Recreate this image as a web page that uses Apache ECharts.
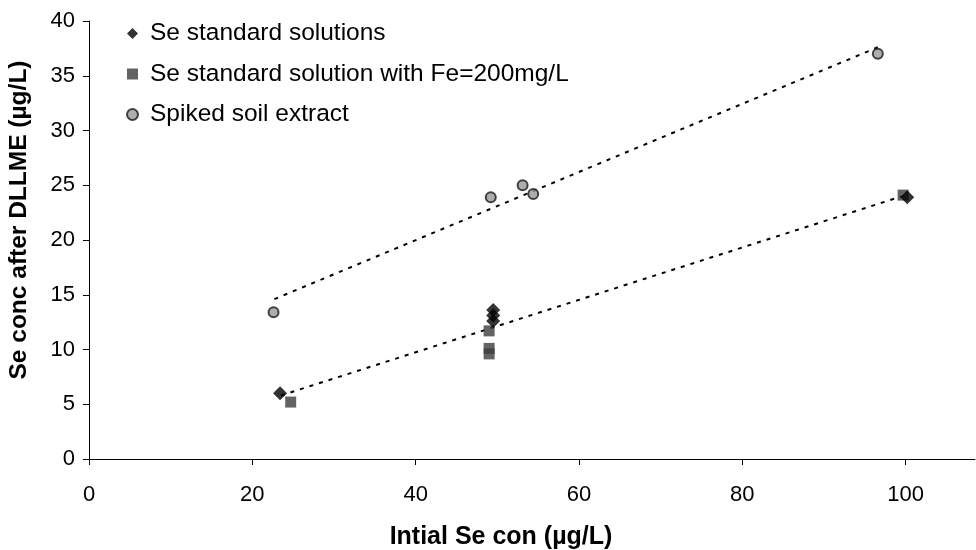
<!DOCTYPE html>
<html>
<head>
<meta charset="utf-8">
<script src="https://cdn.jsdelivr.net/npm/echarts@6/dist/echarts.min.js"></script>
<style>
  html, body { margin: 0; padding: 0; background: #fff; }
  #chart { width: 976px; height: 550px; }
</style>
</head>
<body>
<div id="chart"></div>
<script>
// Initial Se concentration (µg/L) vs. concentration found after DLLME (µg/L)
const standardX = [23.4, 49.5, 49.5, 49.5, 100.2];
const standardY = [6.0, 13.6, 13.1, 12.6, 23.9];

const withFeX = [24.7, 49.0, 49.0, 49.0, 99.7];
const withFeY = [5.2, 11.7, 10.1, 9.6, 24.1];

const soilX = [22.6, 49.2, 53.1, 54.4, 96.6];
const soilY = [13.4, 23.9, 25.0, 24.2, 37.0];

// Trendline end points
const trendStdX = [23.5, 100];
const trendStdY = [5.8, 24.1];
const trendSoilX = [22.7, 96.6];
const trendSoilY = [14.6, 37.6];

const xTicks = [0, 20, 40, 60, 80, 100];
const yTicks = [0, 5, 10, 15, 20, 25, 30, 35, 40];

const seriesNames = [
  'Se standard solutions',
  'Se standard solution with Fe=200mg/L',
  'Spiked soil extract'
];

const pairs = (xs, ys) => xs.map((x, i) => [x, ys[i]]);

const font = 'Liberation Sans, Arial, sans-serif';

const chart = echarts.init(document.getElementById('chart'), null, { renderer: 'canvas' });

chart.setOption({
  animation: false,
  backgroundColor: '#ffffff',
  grid: { left: 89, right: 1, top: 21, bottom: 91, containLabel: false, outerBoundsMode: 'none' },
  legend: {
    orient: 'vertical',
    left: 121,
    top: 16,
    itemGap: 15.5,
    itemWidth: 11,
    itemHeight: 11,
    data: seriesNames,
    textStyle: { fontFamily: font, fontSize: 24.5, color: '#000', padding: [0, 0, 0, 7] }
  },
  xAxis: {
    type: 'value',
    min: 0,
    max: 108.5,
    interval: 20,
    name: 'Intial Se con (µg/L)',
    nameLocation: 'middle',
    nameGap: 66,
    nameTextStyle: { fontFamily: font, fontSize: 25, fontWeight: 'bold', color: '#000', padding: [0, 62, 0, 0] },
    axisLine: { lineStyle: { color: '#000', width: 1 } },
    axisTick: { show: true, length: 6, inside: false, customValues: xTicks, lineStyle: { color: '#000' } },
    axisLabel: { customValues: xTicks, margin: 25, fontFamily: font, fontSize: 22, color: '#000' },
    splitLine: { show: false }
  },
  yAxis: {
    type: 'value',
    min: 0,
    max: 40,
    interval: 5,
    name: 'Se conc after DLLME (µg/L)',
    nameLocation: 'middle',
    nameGap: 57,
    nameRotate: 90,
    nameTextStyle: { fontFamily: font, fontSize: 24.5, fontWeight: 'bold', color: '#000', padding: [0, 0, 0, 40] },
    axisLine: { show: true, lineStyle: { color: '#000', width: 1 } },
    axisTick: { show: true, length: 6, inside: false, customValues: yTicks, lineStyle: { color: '#000' } },
    axisLabel: { customValues: yTicks, margin: 14, fontFamily: font, fontSize: 22, color: '#000' },
    splitLine: { show: false }
  },
  series: [
    {
      name: 'trend-soil',
      type: 'line',
      data: pairs(trendSoilX, trendSoilY),
      symbol: 'none',
      lineStyle: { color: '#000', width: 2, type: [4, 6] },
      silent: true,
      z: 1
    },
    {
      name: 'trend-std',
      type: 'line',
      data: pairs(trendStdX, trendStdY),
      symbol: 'none',
      lineStyle: { color: '#000', width: 2, type: [4, 6] },
      silent: true,
      z: 1
    },
    {
      name: seriesNames[1],
      type: 'scatter',
      data: pairs(withFeX, withFeY),
      symbol: 'rect',
      symbolSize: 11,
      itemStyle: { color: '#3c3c3c' },
      z: 3
    },
    {
      name: seriesNames[0],
      type: 'scatter',
      data: pairs(standardX, standardY),
      symbol: 'diamond',
      symbolSize: 14,
      itemStyle: { color: '#000' },
      z: 4
    },
    {
      name: seriesNames[2],
      type: 'scatter',
      data: pairs(soilX, soilY),
      symbol: 'circle',
      symbolSize: 10,
      itemStyle: { color: '#999999', borderColor: '#1a1a1a', borderWidth: 2 },
      z: 5
    }
  ]
});
</script>
</body>
</html>
